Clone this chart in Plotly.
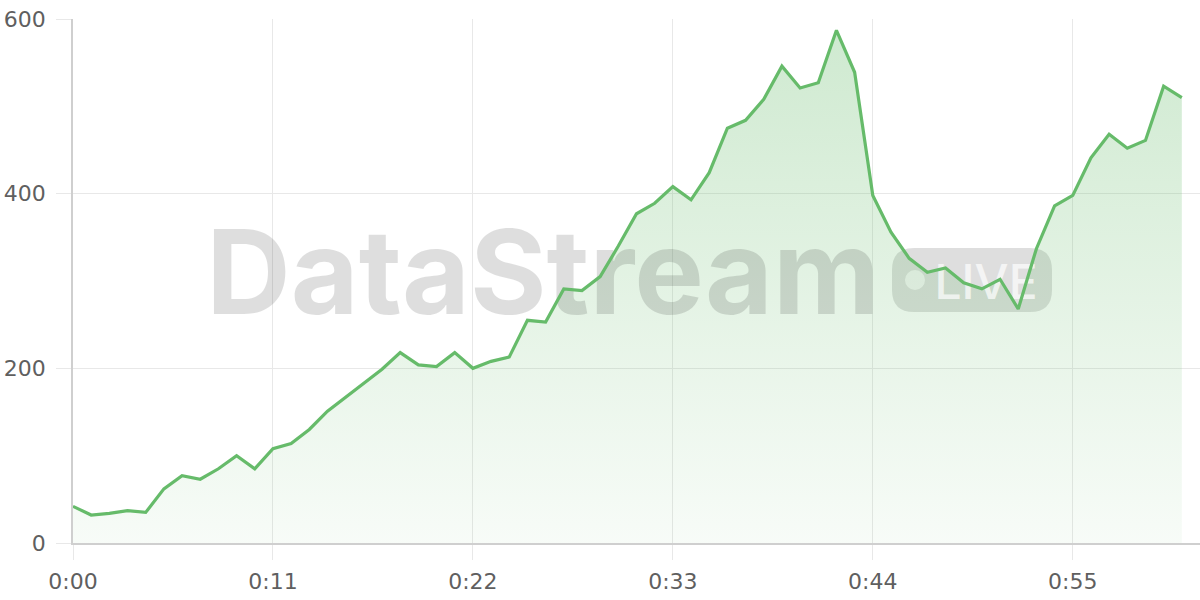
import plotly.graph_objects as go

# ---- data ----
seconds = list(range(62))
values = [42, 32, 34, 37, 35, 62, 77, 73, 85, 100,
          85, 108, 114, 130, 151, 167, 182, 199, 218, 204,
          202, 218, 200, 208, 213, 255, 253, 291, 289, 305,
          340, 377, 389, 408, 393, 424, 475, 484, 508, 546,
          521, 527, 587, 539, 398, 356, 326, 310, 315, 298,
          291, 302, 268, 337, 386, 398, 441, 468, 452, 461,
          523, 510]
tick_vals = [0, 11, 22, 33, 44, 55]
tick_text = ["0:00", "0:11", "0:22", "0:33", "0:44", "0:55"]

# ---- layout constants ----
L, T, R, B = 73, 19, 0, 57
FW, FH = 1200, 600
W, H = FW - L - R, FH - T - B
XR, YR = 62, 600

def dx(px):
    return (px - L) / W * XR

def dy(py):
    return (T + H - py) / H * YR

LINE = "#66bb6a"
GRID = "#e8e8e8"
AXIS = "#cfcfcf"
TICKF = dict(family="DejaVu Sans", size=22, color="#5f5f5f")

fig = go.Figure()

# area fill
fig.add_trace(go.Scatter(
    x=seconds, y=values, mode="lines", line=dict(width=0, color=LINE),
    fill="tozeroy",
    fillgradient=dict(type="vertical", start=0, stop=600,
                      colorscale=[[0, "rgba(102,187,106,0.05)"],
                                  [1, "rgba(102,187,106,0.32)"]]),
    hoverinfo="skip", showlegend=False))

# watermark text
fig.add_trace(go.Scatter(
    x=[dx(543)], y=[dy(285)], mode="text", text=["DataStream"],
    textposition="middle center",
    textfont=dict(family="Inter", size=117, weight=700, color="rgba(0,0,0,0.13)"),
    hoverinfo="skip", showlegend=False, cliponaxis=False))
fig.add_trace(go.Scatter(
    x=[dx(986)], y=[dy(287)], mode="text", text=["LIVE"],
    textposition="middle center",
    textfont=dict(family="Inter", size=48, weight=500, color="rgba(255,255,255,0.7)"),
    hoverinfo="skip", showlegend=False, cliponaxis=False))

# main line
fig.add_trace(go.Scatter(
    x=seconds, y=values, mode="lines",
    line=dict(color=LINE, width=3.2),
    hoverinfo="x+y", showlegend=False))

# LIVE pill + dot
x0, x1, y0, y1, r = 892, 1052, 248, 312, 22
pts = [
    ("M", [(x0 + r, y0)]), ("L", [(x1 - r, y0)]), ("Q", [(x1, y0), (x1, y0 + r)]),
    ("L", [(x1, y1 - r)]), ("Q", [(x1, y1), (x1 - r, y1)]),
    ("L", [(x0 + r, y1)]), ("Q", [(x0, y1), (x0, y1 - r)]),
    ("L", [(x0, y0 + r)]), ("Q", [(x0, y0), (x0 + r, y0)]),
]
path = " ".join(c + " " + " ".join(f"{dx(px):.4f},{dy(py):.4f}" for px, py in p) for c, p in pts) + " Z"
fig.add_shape(type="path", path=path, xref="x", yref="y", layer="between",
              fillcolor="rgba(0,0,0,0.13)", line=dict(width=0))
fig.add_shape(type="circle", xref="x", yref="y", layer="between",
              x0=dx(905), x1=dx(925), y0=dy(290), y1=dy(270),
              fillcolor="rgba(255,255,255,0.7)", line=dict(width=0))

fig.update_layout(
    width=FW, height=FH,
    margin=dict(l=L, r=R, t=T, b=B, autoexpand=False),
    paper_bgcolor="white", plot_bgcolor="white",
    xaxis=dict(range=[0, XR], tickvals=tick_vals, ticktext=tick_text,
               showgrid=True, gridcolor=GRID, gridwidth=1.3,
               ticks="outside", ticklen=15, tickcolor=GRID, tickwidth=1.3,
               showline=True, linecolor=AXIS, linewidth=1.5, automargin=False,
               zeroline=False, tickfont=TICKF, ticklabelstandoff=3),
    yaxis=dict(range=[0, YR], tickvals=[0, 200, 400, 600],
               showgrid=True, gridcolor=GRID, gridwidth=1.3,
               ticks="outside", ticklen=15, tickcolor=GRID, tickwidth=1.3,
               showline=True, linecolor=AXIS, linewidth=1.5, automargin=False,
               zeroline=False, tickfont=TICKF, ticklabelstandoff=6),
    hovermode="x",
)

fig.write_html("out.html", config={"displayModeBar": False},
               post_script="document.body.style.margin='0';document.body.style.overflow='hidden';")
